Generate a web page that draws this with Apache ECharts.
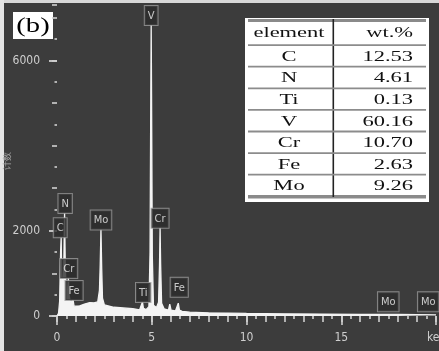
<!DOCTYPE html>
<html>
<head>
<meta charset="utf-8">
<script src="https://cdn.jsdelivr.net/npm/echarts@6/dist/echarts.min.js"></script>
<style>
  html, body { margin: 0; padding: 0; background: #3c3c3c; }
  #chart { width: 439px; height: 351px; }
</style>
</head>
<body>
<div id="chart"></div>
<script>
// EDS spectrum: energy (keV) and counts along the trace
const specKeV = [0.00, 0.08, 0.14, 0.19, 0.22, 0.25, 0.30, 0.36, 0.40, 0.44, 0.50, 0.56, 0.60, 0.64, 0.70,
  0.80, 0.85, 0.90, 1.00, 1.20, 1.45, 1.73, 1.95, 2.15, 2.24, 2.28, 2.32, 2.36, 2.40, 2.50, 2.60, 3.00,
  3.50, 4.00, 4.36, 4.46, 4.51, 4.56, 4.70, 4.85, 4.91, 4.95, 4.97, 4.99, 5.03, 5.09, 5.25, 5.36, 5.41,
  5.44, 5.47, 5.52, 5.65, 5.88, 5.95, 6.02, 6.25, 6.34, 6.40, 6.46, 6.60, 7.00, 8.00, 9.00, 10.0, 12.0,
  14.0, 16.0, 18.0, 20.0];
const specCounts = [0, 60, 350, 1500, 1850, 900, 600, 1200, 2420, 1100, 500, 600, 890, 500, 320,
  300, 375, 230, 200, 240, 280, 315, 310, 330, 600, 1200, 2030, 1100, 420, 260, 225, 205,
  190, 170, 145, 170, 330, 180, 150, 220, 1500, 5200, 6830, 5200, 1400, 250, 200, 320, 1200,
  2070, 1200, 300, 170, 140, 280, 140, 120, 140, 300, 140, 110, 90, 75, 68, 60, 52,
  46, 40, 35, 28];

// Element peak markers: label, energy and the count level the tag sits on
const markerNames = ['C', 'N', 'Cr', 'Fe', 'Mo', 'Ti', 'V', 'Cr', 'Fe', 'Mo', 'Mo'];
const markerKeV = [0.17, 0.43, 0.62, 0.90, 2.32, 4.55, 4.97, 5.44, 6.45, 17.48, 19.59];
const markerLevel = [1850, 2420, 890, 375, 2030, 330, 6830, 2070, 450, 110, 110];

// Axis ticks
const yTickLabels = [0, 2000, 6000];
const xTickLabels = [0, 5, 10, 15];
const xMajorTicks = [0, 5, 10, 15, 20];

// Composition table
const tableElements = ['C', 'N', 'Ti', 'V', 'Cr', 'Fe', 'Mo'];
const tableWt = ['12.53', '4.61', '0.13', '60.16', '10.70', '2.63', '9.26'];

const narrow = "'Liberation Sans Narrow', 'DejaVu Sans Condensed', 'Liberation Sans', sans-serif";
const serif = "'Liberation Serif', 'DejaVu Serif', serif";
const tickCol = '#d0d0d0';

const chart = echarts.init(document.getElementById('chart'), null, { renderer: 'canvas' });

// table graphics
const tLeft = 245, tTop = 18, tW = 184, tH = 184;
const rowTop = 45, rowH = 21.6;
const graphics = [
  { type: 'rect', shape: { x: 0, y: 0, width: 439, height: 3 }, style: { fill: '#d8d8d8' } },
  { type: 'rect', shape: { x: 0, y: 0, width: 4, height: 351 }, style: { fill: '#e4e4e4' } },
  { type: 'rect', shape: { x: 13, y: 12, width: 40, height: 27 }, style: { fill: '#ffffff' } },
  { type: 'text', x: 33, y: 26, scaleX: 1.3,
    style: { text: '(b)', font: '22px ' + serif, fill: '#000', align: 'center', verticalAlign: 'middle' } },
  { type: 'rect', shape: { x: tLeft, y: tTop, width: tW, height: tH }, style: { fill: '#ffffff' } },
  { type: 'rect', shape: { x: tLeft + 3, y: tTop + 1, width: tW - 6, height: 3 }, style: { fill: '#8a8a8a' } },
  { type: 'rect', shape: { x: tLeft + 3, y: 195, width: tW - 6, height: 3.5 }, style: { fill: '#8a8a8a' } },
  { type: 'rect', shape: { x: 332.5, y: tTop + 1, width: 1.6, height: 178 }, style: { fill: '#222' } },
  { type: 'text', x: 289, y: 33, scaleX: 1.5,
    style: { text: 'element', font: '15px ' + serif, fill: '#111', align: 'center', verticalAlign: 'middle' } },
  { type: 'text', x: 413, y: 33, scaleX: 1.5,
    style: { text: 'wt.%', font: '15px ' + serif, fill: '#111', align: 'right', verticalAlign: 'middle' } },
  { type: 'text', x: 427, y: 338,
    style: { text: 'keV', font: '12px ' + narrow, fill: '#cfcfcf', align: 'left', verticalAlign: 'middle' } }
];
tableElements.forEach((el, i) => {
  const y0 = rowTop + i * rowH;
  graphics.push({ type: 'rect', shape: { x: tLeft + 3, y: y0 - 0.8, width: tW - 6, height: 1.8 }, style: { fill: '#8c8c8c' } });
  graphics.push({ type: 'text', x: 289, y: y0 + rowH / 2 + 1, scaleX: 1.5,
    style: { text: el, font: '15px ' + serif, fill: '#111', align: 'center', verticalAlign: 'middle' } });
  graphics.push({ type: 'text', x: 413, y: y0 + rowH / 2 + 1, scaleX: 1.5,
    style: { text: tableWt[i], font: '15px ' + serif, fill: '#111', align: 'right', verticalAlign: 'middle' } });
});

const option = {
  animation: false,
  backgroundColor: '#3c3c3c',
  grid: { left: 57, right: 3, top: 5, bottom: 35, containLabel: false, outerBoundsMode: 'none' },
  xAxis: [
    {
      type: 'value', min: 0, max: 20, interval: 1, offset: 3,
      axisLine: { show: false },
      axisTick: { show: true, length: 6, lineStyle: { color: tickCol, width: 1.6 } },
      minorTick: { show: true, splitNumber: 2, length: 3, lineStyle: { color: tickCol, width: 1.6 } },
      splitLine: { show: false },
      axisLabel: { customValues: xTickLabels, formatter: v => String(v),
        color: '#cfcfcf', fontSize: 12, fontFamily: narrow, margin: 13 }
    },
    {
      type: 'value', min: 0, max: 20, offset: 3, position: 'bottom',
      axisLine: { show: false },
      axisTick: { customValues: xMajorTicks, length: 9, lineStyle: { color: tickCol, width: 1.6 } },
      splitLine: { show: false },
      axisLabel: { show: false }
    }
  ],
  yAxis: [
    {
      type: 'value', min: 0, max: 7300, interval: 1000, offset: 5,
      name: '计数', nameLocation: 'middle', nameRotate: 90, nameGap: 40,
      nameTextStyle: { color: '#a8a8a8', fontSize: 9 },
      axisLine: { show: false },
      axisTick: { show: true, length: 5, lineStyle: { color: tickCol, width: 1.6 } },
      minorTick: { show: true, splitNumber: 2, length: 2.5, lineStyle: { color: tickCol, width: 1.6 } },
      splitLine: { show: false },
      axisLabel: { show: false }
    },
    {
      type: 'value', min: 0, max: 7300, offset: 5, position: 'left',
      axisLine: { show: false },
      axisTick: { customValues: yTickLabels, length: 8, lineStyle: { color: tickCol, width: 1.8 } },
      splitLine: { show: false },
      axisLabel: { customValues: yTickLabels, formatter: v => String(v),
        color: '#cfcfcf', fontSize: 12, fontFamily: narrow, margin: 12 }
    }
  ],
  series: [
    {
      type: 'line',
      xAxisIndex: 0, yAxisIndex: 0,
      data: specKeV.map((k, i) => [k, specCounts[i]]),
      symbol: 'none',
      lineStyle: { color: '#f4f4f4', width: 1.3 },
      areaStyle: { color: '#f4f4f4', opacity: 1 },
      z: 2
    },
    {
      type: 'scatter',
      xAxisIndex: 0, yAxisIndex: 0,
      data: markerKeV.map((k, i) => ({ value: [k, markerLevel[i]], name: markerNames[i] })),
      symbolSize: 0,
      z: 3,
      label: {
        show: true, position: 'top', distance: 0,
        formatter: p => p.name,
        color: '#f0f0f0', fontSize: 11, fontFamily: narrow, lineHeight: 12,
        backgroundColor: '#2a2a2a', borderColor: '#9a9a9a', borderWidth: 1,
        padding: [4, 3, 3, 3]
      }
    }
  ],
  graphic: graphics
};
chart.setOption(option);
</script>
</body>
</html>
